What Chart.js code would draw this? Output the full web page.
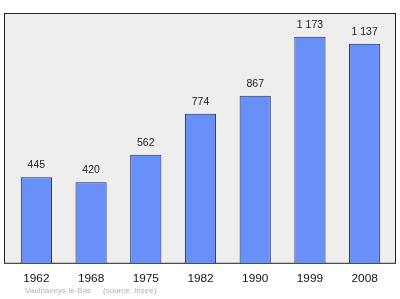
<!DOCTYPE html>
<html><head><meta charset="utf-8">
<script src="https://cdn.jsdelivr.net/npm/chart.js@4/dist/chart.umd.min.js"></script>
<style>html,body{margin:0;padding:0;background:#fff}#w{width:400px;height:299px;position:relative}</style>
</head><body><div id="w"><canvas id="c" width="400" height="299"></canvas></div>
<script>
const years = ["1962","1968","1975","1982","1990","1999","2008"];
const population = [445, 420, 562, 774, 867, 1173, 1137];
const sourcePlace = "Vaulnaveys-le-Bas";
const sourceNote = "(source: Insee)";

function fmt(v){return String(v).replace(/\B(?=(\d{3})+(?!\d))/g, " ");}

const framePlugin = {
  id: 'frame',
  beforeDraw(chart){
    const ctx = chart.ctx, a = chart.chartArea;
    ctx.save();
    ctx.fillStyle = '#eeeeee';
    ctx.fillRect(4.5, 13.5, 391, a.bottom - 13.5);
    ctx.strokeStyle = '#222';
    ctx.lineWidth = 1;
    ctx.strokeRect(4.5, 13.5, 391, a.bottom - 13.5);
    ctx.restore();
  },
  afterDatasetsDraw(chart){
    const ctx = chart.ctx;
    const meta = chart.getDatasetMeta(0);
    ctx.save();
    ctx.font = '10.5px "Liberation Sans", Arial, sans-serif';
    ctx.fillStyle = '#222';
    ctx.textAlign = 'center';
    ctx.textBaseline = 'middle';
    meta.data.forEach((bar, i) => {
      ctx.fillText(fmt(chart.data.datasets[0].data[i]), bar.x, bar.y - 12);
    });
    ctx.font = '8px "Liberation Sans", Arial, sans-serif';
    ctx.fillStyle = '#b0b0b0';
    ctx.textAlign = 'left';
    ctx.fillText(sourcePlace, 25, 291);
    ctx.fillText(sourceNote, 103, 291);
    ctx.restore();
  }
};

new Chart(document.getElementById('c'), {
  type: 'bar',
  data: {
    labels: years,
    datasets: [{
      data: population,
      backgroundColor: '#6890f8',
      borderColor: '#1e2a55',
      borderWidth: 1,
      borderSkipped: 'bottom',
      barPercentage: 0.57,
      categoryPercentage: 1.0
    }]
  },
  options: {
    responsive: false,
    animation: false,
    devicePixelRatio: 1,
    layout: { padding: { top: 13, left: 9, right: 8, bottom: 0 } },
    plugins: { legend: { display: false }, tooltip: { enabled: false } },
    scales: {
      x: {
        grid: { display: false, drawTicks: false },
        border: { display: false },
        ticks: { color: '#111', padding: 8, font: { size: 11.8, family: '"Liberation Sans", Arial, sans-serif' } },
        afterFit(s){ s.height = 35.7; }
      },
      y: {
        display: false,
        min: 0, max: 1296
      }
    }
  },
  plugins: [framePlugin]
});
</script></body></html>
